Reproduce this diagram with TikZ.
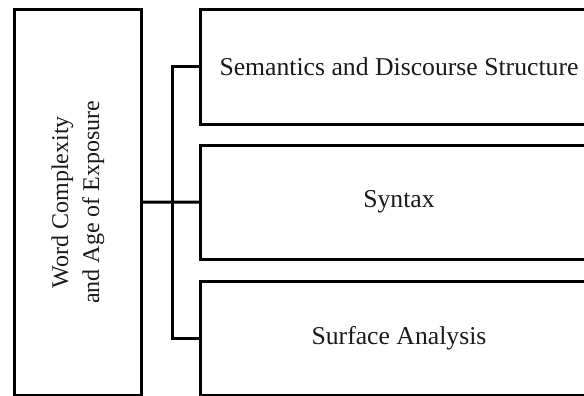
\documentclass[tikz,border=0pt]{standalone}
\usepackage{fontspec}
\setmainfont{Liberation Serif}
\usepackage{graphicx}
\definecolor{txt}{HTML}{1A1A1A}
\begin{document}
\begin{tikzpicture}[x=1pt,y=-1pt,
  box/.style={draw=black, line width=3pt, inner sep=0pt, outer sep=0pt,
    text=txt, font=\fontsize{25.7pt}{31pt}\selectfont, align=center},
  link/.style={draw=black, line width=3pt, line join=miter}]
\useasboundingbox (0,0) rectangle (584,396);
\clip (0,0) rectangle (584,396);
\node[box, minimum width=127pt, minimum height=385.5pt,
  font=\fontsize{24pt}{31pt}\selectfont] (left) at (77.5,202.25)
  {\rotatebox{90}{\begin{tabular}{@{}c@{}}Word Complexity\\and Age of Exposure\end{tabular}}};
\node[box, minimum width=398pt, minimum height=114.5pt] (r1) at (399,66.75) {Semantics and Discourse Structure};
\node[box, minimum width=398pt, minimum height=114pt] (r2) at (399,202) {Syntax};
\node[box, minimum width=398pt, minimum height=114pt] (r3) at (399,338) {Surface Analysis};
\draw[link] (left.east) -- (r2.west);
\draw[link] (r1.west) -- ++(-28,0) coordinate (bt) -- (bt |- r3.west) -- (r3.west);
\end{tikzpicture}
\end{document}
